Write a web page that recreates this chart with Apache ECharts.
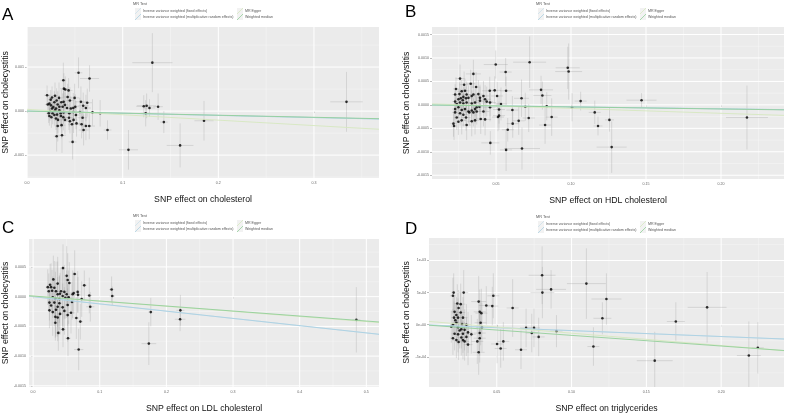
<!DOCTYPE html>
<html>
<head>
<meta charset="utf-8">
<script src="https://cdn.jsdelivr.net/npm/echarts@6/dist/echarts.min.js"></script>
<style>
html, body { margin: 0; padding: 0; background: #fff; }
#chart { width: 787px; height: 414px; }
</style>
</head>
<body>
<div id="chart"></div>
<script>
const methods = [
  'Inverse variance weighted (fixed effects)',
  'Inverse variance weighted (multiplicative random effects)',
  'MR Egger',
  'Weighted median',
];

// ---- Panel A: cholesterol ----
const aX = [0.0538, 0.0653, 0.0379, 0.0385, 0.0399, 0.0434, 0.0209, 0.0292, 0.0261, 0.0334, 0.0424, 0.0247, 0.0309, 0.0448, 0.0497, 0.0285, 0.0358, 0.0382, 0.0563, 0.0233, 0.0216, 0.0320, 0.0396, 0.0250, 0.0587, 0.0629, 0.0337, 0.0372, 0.0504, 0.0274, 0.0417, 0.0483, 0.0615, 0.0458, 0.0261, 0.0302, 0.0292, 0.0337, 0.0240, 0.0483, 0.0552, 0.0684, 0.0382, 0.0764, 0.0226, 0.0267, 0.0351, 0.0441, 0.0313, 0.0511, 0.0233, 0.0354, 0.0285, 0.0254, 0.0379, 0.0438, 0.0580, 0.0302, 0.0323, 0.0396, 0.0486, 0.0448, 0.0517, 0.0570, 0.0469, 0.0361, 0.0320, 0.0650, 0.0615, 0.0591, 0.0841, 0.0365, 0.0309, 0.0476,
  0.131, 0.334, 0.122, 0.125, 0.128, 0.137, 0.124, 0.143, 0.185, 0.106, 0.160];
const aY = [0.00087, 0.00074, 0.00070, 0.00051, 0.00049, 0.00047, 0.00036, 0.00035, 0.00031, 0.00030, 0.00032, 0.00026, 0.00024, 0.00024, 0.00030, 0.00020, 0.00020, 0.00021, 0.00021, 0.00017, 0.00015, 0.00015, 0.00014, 0.00013, 0.00012, 0.00019, 0.00010, 0.00010, 0.00010, 0.00009, 0.00007, 0.00007, 0.00007, 0.00006, 0.00006, 0.00006, 0.00002, 0.00002, 0.00000, -0.00002, -0.00002, -0.00003, -0.00003, -0.00005, -0.00005, -0.00005, -0.00005, -0.00005, -0.00008, -0.00009, -0.00011, -0.00011, -0.00009, -0.00014, -0.00014, -0.00015, -0.00015, -0.00017, -0.00020, -0.00020, -0.00020, -0.00023, -0.00028, -0.00030, -0.00030, -0.00032, -0.00034, -0.00034, -0.00034, -0.00043, -0.00043, -0.00055, -0.00057, -0.00070,
  0.00110, 0.00021, 0.00011, 0.00012, 0.00007, 0.00010, -0.00005, -0.00025, -0.00022, -0.00088, -0.00078];
const aSeX = [0.004, 0.010, 0.003, 0.004, 0.003, 0.004, 0.003, 0.003, 0.003, 0.004, 0.004, 0.003, 0.003, 0.004, 0.005, 0.003, 0.004, 0.003, 0.006, 0.003, 0.003, 0.003, 0.004, 0.003, 0.006, 0.005, 0.003, 0.004, 0.004, 0.003, 0.004, 0.004, 0.005, 0.004, 0.003, 0.003, 0.003, 0.003, 0.003, 0.004, 0.005, 0.006, 0.003, 0.006, 0.003, 0.003, 0.003, 0.004, 0.003, 0.004, 0.003, 0.003, 0.003, 0.003, 0.004, 0.004, 0.005, 0.003, 0.003, 0.004, 0.004, 0.004, 0.005, 0.005, 0.004, 0.004, 0.003, 0.006, 0.005, 0.005, 0.004, 0.004, 0.003, 0.004,
  0.021, 0.017, 0.008, 0.010, 0.006, 0.005, 0.005, 0.004, 0.010, 0.010, 0.014];
const aSeY = [0.00035, 0.00030, 0.00040, 0.00035, 0.00030, 0.00028, 0.00022, 0.00030, 0.00025, 0.00035, 0.00030, 0.00022, 0.00028, 0.00030, 0.00032, 0.00025, 0.00030, 0.00026, 0.00035, 0.00020, 0.00022, 0.00030, 0.00028, 0.00024, 0.00030, 0.00032, 0.00026, 0.00030, 0.00028, 0.00022, 0.00030, 0.00034, 0.00030, 0.00025, 0.00020, 0.00028, 0.00024, 0.00030, 0.00022, 0.00030, 0.00032, 0.00030, 0.00026, 0.00030, 0.00022, 0.00025, 0.00028, 0.00030, 0.00026, 0.00032, 0.00022, 0.00028, 0.00024, 0.00024, 0.00030, 0.00028, 0.00034, 0.00026, 0.00030, 0.00032, 0.00030, 0.00028, 0.00030, 0.00032, 0.00035, 0.00030, 0.00035, 0.00030, 0.00032, 0.00035, 0.00022, 0.00040, 0.00035, 0.00040,
  0.00067, 0.00068, 0.00025, 0.00028, 0.00020, 0.00030, 0.00030, 0.00025, 0.00045, 0.00045, 0.00050];
const aSlope = [-0.00049, -0.00049, -0.00123, -0.00047];
const aIntercept = [0, 0, 0.00004, 0];
const aXRange = [0, 0.368];
const aYRange = [-0.00152, 0.00191];
const aXTicks = [0, 0.1, 0.2, 0.3];
const aXLabels = ['0.0', '0.1', '0.2', '0.3'];
const aXMinor = [0.05, 0.15, 0.25, 0.35];
const aYTicks = [-0.001, 0, 0.001];
const aYLabels = ['-0.001', '0.000', '0.001'];
const aYMinor = [-0.0015, -0.0005, 0.0005, 0.0015];

// ---- Panel B: HDL cholesterol ----
const bX = [0.0260, 0.0233, 0.0287, 0.0331, 0.0367, 0.0227, 0.0256, 0.0271, 0.0293, 0.0304, 0.0282, 0.0265, 0.0249, 0.0278, 0.0300, 0.0316, 0.0338, 0.0349, 0.0382, 0.0393, 0.0416, 0.0427, 0.0227, 0.0238, 0.0260, 0.0282, 0.0304, 0.0338, 0.0360, 0.0393, 0.0438, 0.0460, 0.0227, 0.0249, 0.0271, 0.0293, 0.0316, 0.0338, 0.0360, 0.0371, 0.0389, 0.0416, 0.0227, 0.0260, 0.0282, 0.0322, 0.0349, 0.0371, 0.0238, 0.0271, 0.0300, 0.0338, 0.0360, 0.0398, 0.0427, 0.0216, 0.0220, 0.0304, 0.0249, 0.0460, 0.0533,
  0.0724, 0.0498, 0.0564, 0.0978, 0.0984, 0.0349, 0.0800, 0.0809, 0.0670, 0.1064, 0.1470, 0.0838, 0.1007, 0.0695, 0.1158, 0.2173, 0.1256, 0.1180, 0.0827, 0.0718, 0.0871, 0.0651, 0.0611, 0.0578, 0.0462, 0.0673, 0.0567, 0.1271, 0.0513, 0.0520, 0.0507, 0.0491, 0.0567, 0.0458, 0.0609, 0.0520];
const bY = [0.00056, 0.00034, 0.00043, 0.00045, 0.00038, 0.00022, 0.00023, 0.00029, 0.00030, 0.00022, 0.00017, 0.00014, 0.00012, 0.00010, 0.00014, 0.00015, 0.00019, 0.00022, 0.00023, 0.00015, 0.00019, 0.00012, 0.00007, 0.00002, 0.00005, 0.00003, 0.00005, 0.00003, 0.00005, 0.00009, 0.00007, 0.00005, -0.00009, -0.00005, -0.00011, -0.00009, -0.00014, -0.00012, -0.00009, -0.00005, -0.00004, -0.00014, -0.00016, -0.00018, -0.00021, -0.00016, -0.00016, -0.00014, -0.00027, -0.00033, -0.00027, -0.00035, -0.00033, -0.00030, -0.00031, -0.00040, -0.00045, -0.00043, -0.00036, -0.00005, 0.00002,
  0.00091, 0.00086, 0.00070, 0.00079, 0.00071, 0.00066, 0.00032, 0.00020, 0.00014, 0.00008, 0.00010, -0.00003, -0.00005, -0.00004, -0.00016, -0.00027, -0.00032, -0.00045, -0.00043, -0.00028, -0.00026, -0.00034, -0.00040, -0.00053, -0.00081, -0.00093, -0.00096, -0.00090, -0.00026, -0.00023, 0.00019, 0.00031, 0.00030, 0.00030, -0.00011, -0.00010];
const bSeX = [0.003, 0.002, 0.003, 0.003, 0.003, 0.002, 0.002, 0.003, 0.003, 0.003, 0.002, 0.002, 0.002, 0.002, 0.003, 0.003, 0.003, 0.003, 0.003, 0.003, 0.004, 0.004, 0.002, 0.002, 0.002, 0.002, 0.003, 0.003, 0.003, 0.003, 0.004, 0.004, 0.002, 0.002, 0.002, 0.003, 0.003, 0.003, 0.003, 0.003, 0.003, 0.004, 0.002, 0.002, 0.003, 0.003, 0.003, 0.003, 0.002, 0.003, 0.003, 0.003, 0.003, 0.004, 0.004, 0.002, 0.002, 0.003, 0.002, 0.004, 0.004,
  0.011, 0.008, 0.004, 0.008, 0.009, 0.005, 0.008, 0.006, 0.005, 0.004, 0.010, 0.004, 0.003, 0.004, 0.004, 0.014, 0.003, 0.003, 0.004, 0.004, 0.004, 0.004, 0.004, 0.004, 0.006, 0.012, 0.004, 0.010, 0.004, 0.004, 0.004, 0.004, 0.004, 0.005, 0.004, 0.004];
const bSeY = [0.00030, 0.00025, 0.00028, 0.00030, 0.00032, 0.00022, 0.00025, 0.00024, 0.00026, 0.00028, 0.00022, 0.00020, 0.00022, 0.00024, 0.00025, 0.00026, 0.00028, 0.00030, 0.00030, 0.00028, 0.00032, 0.00030, 0.00022, 0.00020, 0.00024, 0.00022, 0.00026, 0.00028, 0.00030, 0.00028, 0.00032, 0.00030, 0.00022, 0.00024, 0.00022, 0.00026, 0.00025, 0.00028, 0.00030, 0.00026, 0.00028, 0.00032, 0.00024, 0.00026, 0.00025, 0.00028, 0.00030, 0.00028, 0.00026, 0.00030, 0.00028, 0.00032, 0.00030, 0.00032, 0.00034, 0.00028, 0.00030, 0.00032, 0.00028, 0.00030, 0.00035,
  0.00055, 0.00030, 0.00030, 0.00045, 0.00060, 0.00030, 0.00030, 0.00030, 0.00040, 0.00020, 0.00015, 0.00030, 0.00030, 0.00030, 0.00025, 0.00068, 0.00025, 0.00020, 0.00040, 0.00030, 0.00040, 0.00030, 0.00030, 0.00025, 0.00025, 0.00045, 0.00045, 0.00055, 0.00030, 0.00030, 0.00030, 0.00030, 0.00030, 0.00030, 0.00030, 0.00030];
const bSlope = [-0.00042, -0.00042, -0.00105, -0.00044];
const bIntercept = [0, 0, 0.00003, 0];
const bXRange = [0.0073, 0.242];
const bYRange = [-0.00158, 0.00166];
const bXTicks = [0.05, 0.1, 0.15, 0.2];
const bXLabels = ['0.05', '0.10', '0.15', '0.20'];
const bXMinor = [0.025, 0.075, 0.125, 0.175, 0.225];
const bYTicks = [-0.0015, -0.001, -0.0005, 0, 0.0005, 0.001, 0.0015];
const bYLabels = ['-0.0015', '-0.0010', '-0.0005', '0.0000', '0.0005', '0.0010', '0.0015'];
const bYMinor = [-0.00125, -0.00075, -0.00025, 0.00025, 0.00075, 0.00125];

// ---- Panel C: LDL cholesterol ----
const cX = [0.485, 0.221, 0.2206, 0.1766, 0.1737, 0.1178, 0.1188, 0.0858, 0.0843, 0.0768, 0.0709, 0.0684, 0.0649, 0.0669, 0.0674, 0.0624, 0.0609, 0.0584, 0.0729, 0.0524, 0.0449, 0.0449, 0.0379, 0.0334,
  0.0504, 0.0519, 0.0304, 0.0544, 0.0369, 0.0255, 0.0220, 0.0270, 0.0319, 0.0285, 0.0344, 0.0235, 0.0419, 0.0469, 0.0369, 0.0404, 0.0504, 0.0444, 0.0295, 0.0334, 0.0394, 0.0484, 0.0534, 0.0594, 0.0245, 0.0319, 0.0394, 0.0270, 0.0369, 0.0444, 0.0519, 0.0245, 0.0295, 0.0344, 0.0404, 0.0469, 0.0519, 0.0334, 0.0369, 0.0569];
const cY = [-0.00039, -0.00023, -0.00038, -0.00026, -0.00079, 0.00012, 0.00001, -0.00017, 0.00002, 0.00019, -0.00042, -0.00089, -0.00036, 0.00008, 0.00003, 0.00038, 0.00006, -0.00009, -0.00004, -0.00070, 0.00048, -0.00055, -0.00061, -0.00044,
  0.00035, 0.00028, 0.00029, 0.00023, 0.00022, 0.00020, 0.00016, 0.00016, 0.00015, 0.00010, 0.00009, 0.00009, 0.00009, 0.00008, 0.00004, 0.00005, 0.00004, 0.00001, -0.00001, -0.00003, -0.00004, -0.00002, -0.00001, 0.00004, -0.00010, -0.00010, -0.00011, -0.00015, -0.00017, -0.00018, -0.00014, -0.00023, -0.00026, -0.00022, -0.00029, -0.00024, -0.00031, -0.00034, -0.00035, -0.00027];
const cSeX = [0.006, 0.006, 0.008, 0.004, 0.011, 0.004, 0.004, 0.006, 0.004, 0.004, 0.004, 0.007, 0.004, 0.004, 0.004, 0.004, 0.004, 0.004, 0.004, 0.004, 0.004, 0.004, 0.004, 0.004,
  0.004, 0.004, 0.003, 0.005, 0.003, 0.003, 0.003, 0.003, 0.003, 0.003, 0.004, 0.003, 0.004, 0.004, 0.003, 0.004, 0.004, 0.004, 0.003, 0.003, 0.004, 0.004, 0.004, 0.005, 0.003, 0.003, 0.004, 0.003, 0.004, 0.004, 0.004, 0.003, 0.003, 0.003, 0.004, 0.004, 0.004, 0.003, 0.003, 0.005];
const cSeY = [0.00055, 0.00026, 0.00020, 0.00024, 0.00036, 0.00022, 0.00016, 0.00025, 0.00030, 0.00025, 0.00030, 0.00035, 0.00035, 0.00035, 0.00030, 0.00040, 0.00035, 0.00030, 0.00030, 0.00030, 0.00040, 0.00030, 0.00030, 0.00030,
  0.00050, 0.00045, 0.00040, 0.00035, 0.00045, 0.00035, 0.00030, 0.00040, 0.00045, 0.00035, 0.00050, 0.00030, 0.00040, 0.00045, 0.00055, 0.00035, 0.00040, 0.00050, 0.00035, 0.00045, 0.00040, 0.00035, 0.00045, 0.00040, 0.00030, 0.00040, 0.00045, 0.00035, 0.00050, 0.00040, 0.00035, 0.00030, 0.00040, 0.00045, 0.00035, 0.00040, 0.00045, 0.00035, 0.00040, 0.00035];
const cSlope = [-0.00122, -0.00122, -0.00086, -0.00084];
const cIntercept = [0, 0, 0.00001, 0.00001];
const cXRange = [-0.006, 0.519];
const cYRange = [-0.00152, 0.00097];
const cXTicks = [0, 0.1, 0.2, 0.3, 0.4, 0.5];
const cXLabels = ['0.0', '0.1', '0.2', '0.3', '0.4', '0.5'];
const cXMinor = [0.05, 0.15, 0.25, 0.35, 0.45];
const cYTicks = [-0.0015, -0.001, -0.0005, 0, 0.0005];
const cYLabels = ['-0.0015', '-0.0010', '-0.0005', '0.0000', '0.0005'];
const cYMinor = [-0.00125, -0.00075, -0.00025, 0.00025, 0.00075];

// ---- Panel D: triglycerides ----
const dX = [0.0803, 0.0863, 0.0805, 0.1099, 0.1233, 0.1206, 0.1906, 0.1697, 0.2245, 0.2185, 0.1556, 0.1146, 0.0899, 0.0749, 0.0780, 0.0734, 0.0696, 0.0662, 0.0606, 0.0526, 0.0544, 0.0502, 0.0477, 0.0470, 0.0430,
  0.0212, 0.0279, 0.0207, 0.0236, 0.0259, 0.0245, 0.0218, 0.0259, 0.0230, 0.0214, 0.0241, 0.0274, 0.0223, 0.0230, 0.0207, 0.0268, 0.0297, 0.0196, 0.0241, 0.0263, 0.0252, 0.0285, 0.0218, 0.0241, 0.0274, 0.0308, 0.0330, 0.0263, 0.0297, 0.0207, 0.0230, 0.0274, 0.0245, 0.0285, 0.0308, 0.0379, 0.0386, 0.0397, 0.0392, 0.0401, 0.0386, 0.0386, 0.0370, 0.0379];
const dY = [0.00077, 0.00055, 0.00050, 0.00064, 0.00040, 0.00010, 0.00027, 0.00005, -0.00036, -0.00048, -0.00056, -0.00034, -0.00010, -0.00005, -0.00019, -0.00013, -0.00005, -0.00039, 0.00026, -0.00037, -0.00026, -0.00030, 0.00045, 0.00029, 0.00030,
  0.00050, 0.00050, 0.00045, 0.00033, 0.00032, 0.00026, 0.00020, 0.00019, 0.00015, 0.00011, 0.00011, 0.00011, 0.00007, 0.00003, 0.00000, 0.00001, 0.00000, -0.00003, -0.00004, -0.00007, -0.00009, -0.00008, -0.00014, -0.00015, -0.00014, -0.00012, -0.00015, -0.00020, -0.00019, -0.00021, -0.00024, -0.00024, -0.00027, -0.00026, -0.00031, 0.00036, 0.00020, 0.00018, 0.00003, -0.00004, -0.00013, -0.00021, -0.00026, -0.00043];
const dSeX = [0.009, 0.010, 0.008, 0.013, 0.010, 0.006, 0.013, 0.006, 0.004, 0.008, 0.012, 0.004, 0.004, 0.004, 0.004, 0.004, 0.004, 0.004, 0.004, 0.004, 0.004, 0.004, 0.004, 0.004, 0.005,
  0.002, 0.003, 0.002, 0.002, 0.003, 0.002, 0.002, 0.003, 0.002, 0.002, 0.002, 0.003, 0.002, 0.002, 0.002, 0.003, 0.003, 0.002, 0.002, 0.003, 0.002, 0.003, 0.002, 0.002, 0.003, 0.003, 0.003, 0.003, 0.003, 0.002, 0.002, 0.003, 0.002, 0.003, 0.003, 0.005, 0.004, 0.004, 0.004, 0.004, 0.004, 0.004, 0.004, 0.004];
const dSeY = [0.00045, 0.00030, 0.00040, 0.00055, 0.00040, 0.00025, 0.00055, 0.00030, 0.00040, 0.00053, 0.00045, 0.00030, 0.00025, 0.00030, 0.00030, 0.00030, 0.00030, 0.00030, 0.00045, 0.00030, 0.00030, 0.00030, 0.00035, 0.00030, 0.00030,
  0.00030, 0.00035, 0.00028, 0.00030, 0.00032, 0.00028, 0.00025, 0.00030, 0.00028, 0.00025, 0.00030, 0.00032, 0.00026, 0.00028, 0.00025, 0.00030, 0.00032, 0.00025, 0.00028, 0.00030, 0.00028, 0.00032, 0.00026, 0.00028, 0.00030, 0.00032, 0.00030, 0.00028, 0.00030, 0.00026, 0.00028, 0.00030, 0.00028, 0.00030, 0.00032, 0.00040, 0.00035, 0.00038, 0.00035, 0.00038, 0.00035, 0.00038, 0.00035, 0.00035];
const dSlope = [-0.00092, -0.00092, -0.00192, -0.00166];
const dIntercept = [0, 0, 0.00006, 0];
const dXRange = [0.0047, 0.242];
const dYRange = [-0.00097, 0.00135];
const dXTicks = [0.05, 0.1, 0.15, 0.2];
const dXLabels = ['0.05', '0.10', '0.15', '0.20'];
const dXMinor = [0.025, 0.075, 0.125, 0.175, 0.225];
const dYTicks = [-0.0005, 0, 0.0005, 0.001];
const dYLabels = ['-5e-04', '0e+00', '5e-04', '1e-03'];
const dYMinor = [-0.00075, -0.00025, 0.00025, 0.00075, 0.00125];

const yTitle = 'SNP effect on cholecystitis';

// layout / styling
const FONT = '"Liberation Sans", Arial, sans-serif';
const methodColors = ['#cbe0ea', '#acd0e2', '#d6e8bf', '#93cf9a'];

const panels = [
  { letter: 'A', xTitle: 'SNP effect on cholesterol', x: aX, y: aY, sx: aSeX, sy: aSeY,
    slope: aSlope, icpt: aIntercept, xr: aXRange, yr: aYRange,
    xt: aXTicks, xl: aXLabels, xm: aXMinor, yt: aYTicks, yl: aYLabels, ym: aYMinor,
    rect: { left: 26, top: 27, width: 353, height: 151 }, letterAt: [2, 15], legendAt: [133, 4], yGap: 10 },
  { letter: 'B', xTitle: 'SNP effect on HDL cholesterol', x: bX, y: bY, sx: bSeX, sy: bSeY,
    slope: bSlope, icpt: bIntercept, xr: bXRange, yr: bYRange,
    xt: bXTicks, xl: bXLabels, xm: bXMinor, yt: bYTicks, yl: bYLabels, ym: bYMinor,
    rect: { left: 432, top: 27, width: 352, height: 152 }, letterAt: [405, 12], legendAt: [536, 4], yGap: 21 },
  { letter: 'C', xTitle: 'SNP effect on LDL cholesterol', x: cX, y: cY, sx: cSeX, sy: cSeY,
    slope: cSlope, icpt: cIntercept, xr: cXRange, yr: cYRange,
    xt: cXTicks, xl: cXLabels, xm: cXMinor, yt: cYTicks, yl: cYLabels, ym: cYMinor,
    rect: { left: 28, top: 239, width: 351, height: 152 }, letterAt: [2, 228], legendAt: [133, 216], yGap: 12 },
  { letter: 'D', xTitle: 'SNP effect on triglycerides', x: dX, y: dY, sx: dSeX, sy: dSeY,
    slope: dSlope, icpt: dIntercept, xr: dXRange, yr: dYRange,
    xt: dXTicks, xl: dXLabels, xm: dXMinor, yt: dYTicks, yl: dYLabels, ym: dYMinor,
    rect: { left: 429, top: 238, width: 355, height: 153 }, letterAt: [405, 229], legendAt: [536, 217], yGap: 18 },
];

function tickLabel(ticks, labels, v) {
  const k = ticks.findIndex((t) => Math.abs(t - v) < 1e-10);
  return k < 0 ? '' : labels[k];
}

const grids = [];
const xAxes = [];
const yAxes = [];
const series = [];
const graphic = [];

panels.forEach((p, i) => {
  grids.push({ ...p.rect, show: true, backgroundColor: '#ebebeb', borderWidth: 0 });

  const tickStyle = { show: true, length: 2, lineStyle: { color: '#777', width: 0.5 } };
  const labelStyle = { fontSize: 3.6, color: '#666', fontFamily: FONT };

  xAxes.push({
    type: 'value', gridIndex: i, min: p.xr[0], max: p.xr[1],
    name: p.xTitle, nameLocation: 'middle', nameGap: 17,
    nameTextStyle: { fontSize: 8.7, color: '#111', fontFamily: FONT },
    axisLine: { show: false },
    axisTick: { ...tickStyle, customValues: p.xt },
    axisLabel: { ...labelStyle, margin: 3, customValues: p.xt,
      formatter: (v) => tickLabel(p.xt, p.xl, v) },
    splitLine: { show: false },
  });
  yAxes.push({
    type: 'value', gridIndex: i, min: p.yr[0], max: p.yr[1],
    name: yTitle, nameLocation: 'middle', nameGap: p.yGap, nameRotate: 90,
    nameTextStyle: { fontSize: 8.7, color: '#111', fontFamily: FONT },
    axisLine: { show: false },
    axisTick: { ...tickStyle, customValues: p.yt },
    axisLabel: { ...labelStyle, margin: 3, customValues: p.yt,
      formatter: (v) => tickLabel(p.yt, p.yl, v) },
    splitLine: { show: false },
  });

  // background grid lines: [value, 0 = vertical / 1 = horizontal, major?]
  const gridData = [
    ...p.xm.map((v) => [v, 0, 0]), ...p.ym.map((v) => [v, 1, 0]),
    ...p.xt.map((v) => [v, 0, 1]), ...p.yt.map((v) => [v, 1, 1]),
  ];
  series.push({
    type: 'custom', xAxisIndex: i, yAxisIndex: i, z: 1, silent: true,
    data: gridData,
    renderItem(params, api) {
      const cs = params.coordSys;
      const v = api.value(0);
      const major = api.value(2) === 1;
      let shape;
      if (api.value(1) === 0) {
        const px = api.coord([v, p.yr[0]])[0];
        shape = { x1: px, y1: cs.y, x2: px, y2: cs.y + cs.height };
      } else {
        const py = api.coord([p.xr[0], v])[1];
        shape = { x1: cs.x, y1: py, x2: cs.x + cs.width, y2: py };
      }
      return { type: 'line', shape, style: { stroke: major ? '#ffffff' : '#f6f6f6', lineWidth: major ? 1 : 0.5 } };
    },
  });

  // error bars
  series.push({
    type: 'custom', xAxisIndex: i, yAxisIndex: i, z: 2, silent: true, clip: true,
    data: p.x.map((v, k) => [v, p.y[k], p.sx[k], p.sy[k]]),
    renderItem(params, api) {
      const x = api.value(0), y = api.value(1), sx = api.value(2), sy = api.value(3);
      const l = api.coord([x - sx, y]), r = api.coord([x + sx, y]);
      const t = api.coord([x, y + sy]), b = api.coord([x, y - sy]);
      const style = { stroke: 'rgba(140,140,140,0.42)', lineWidth: 0.6 };
      return { type: 'group', children: [
        { type: 'line', shape: { x1: l[0], y1: l[1], x2: r[0], y2: r[1] }, style },
        { type: 'line', shape: { x1: t[0], y1: t[1], x2: b[0], y2: b[1] }, style },
      ] };
    },
  });

  series.push({
    type: 'scatter', xAxisIndex: i, yAxisIndex: i, z: 3, silent: true,
    symbol: 'circle', symbolSize: 2.6, itemStyle: { color: '#000' },
    data: p.x.map((v, k) => [v, p.y[k]]),
  });

  // MR fit lines (abline style)
  methods.forEach((name, m) => {
    const x0 = p.xr[0], x1 = p.xr[1];
    series.push({
      type: 'line', name, xAxisIndex: i, yAxisIndex: i, z: 4, silent: true,
      symbol: 'none', lineStyle: { color: methodColors[m], width: 0.9 },
      data: [[x0, p.icpt[m] + p.slope[m] * x0], [x1, p.icpt[m] + p.slope[m] * x1]],
    });
  });

  // panel letter
  graphic.push({ type: 'text', x: p.letterAt[0], y: p.letterAt[1],
    style: { text: p.letter, fontSize: 17, fill: '#000', fontFamily: FONT, verticalAlign: 'middle' } });

  // legend
  const [lx, ly] = p.legendAt;
  graphic.push({ type: 'text', x: lx, y: ly,
    style: { text: 'MR Test', fontSize: 3.8, fill: '#555', fontFamily: FONT, verticalAlign: 'middle' } });
  methods.forEach((name, m) => {
    const gx = lx + 2 + (m < 2 ? 0 : 102);
    const gy = ly + 4 + (m % 2) * 6;
    graphic.push({ type: 'rect', shape: { x: gx, y: gy, width: 6, height: 6 }, style: { fill: '#f2f2f2' } });
    graphic.push({ type: 'line', shape: { x1: gx, y1: gy + 6, x2: gx + 6, y2: gy },
      style: { stroke: methodColors[m], lineWidth: 0.8 } });
    graphic.push({ type: 'text', x: gx + 8, y: gy + 3,
      style: { text: name, fontSize: 3.6, fill: '#555', fontFamily: FONT, verticalAlign: 'middle' } });
  });
});

const chart = echarts.init(document.getElementById('chart'));
chart.setOption({
  animation: false,
  backgroundColor: '#fff',
  grid: grids,
  xAxis: xAxes,
  yAxis: yAxes,
  series,
  graphic,
});
</script>
</body>
</html>
